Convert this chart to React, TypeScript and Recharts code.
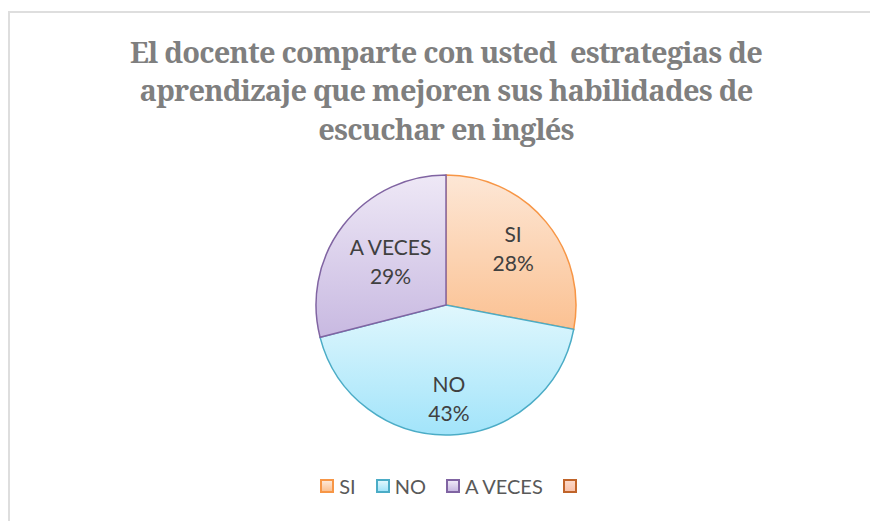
import React from "react";
import { PieChart, Pie, Cell, Legend } from "recharts";

// Chart values
const TITLE_LINES = [
  "El docente comparte con usted  estrategias de",
  "aprendizaje que mejoren sus habilidades de",
  "escuchar en inglés",
];
const CATEGORIES = ["SI", "NO", "A VECES", ""];
const PERCENTS = [28, 43, 29, 0];

const FILL_TOP = ["#fde7d6", "#e0f7fd", "#eee8f6", "#fcd8c8"];
const FILL_BOTTOM = ["#fbc192", "#a2e4fa", "#c8b9e1", "#f9c2aa"];
const STROKES = ["#f79646", "#4bacc6", "#8064a2", "#c0642a"];
// how far out each data label sits, as a share of the radius
const LABEL_RADIUS = [0.67, 0.72, 0.54, 0.6];

const RAD = Math.PI / 180;

const data = CATEGORIES.map((name, i) => ({ name, value: PERCENTS[i] }));

const renderLabel = (props: any) => {
  const { cx, cy, midAngle, outerRadius, name, value, index } = props;
  if (!value) return null;
  const r = outerRadius * LABEL_RADIUS[index];
  const x = cx + r * Math.cos(-midAngle * RAD);
  const y = cy + r * Math.sin(-midAngle * RAD);
  return (
    <text
      x={x}
      y={y}
      textAnchor="middle"
      fill="#404040"
      fontSize={21}
      fontFamily="Lato, sans-serif"
    >
      <tspan x={x} dy={-7}>
        {name}
      </tspan>
      <tspan x={x} dy={29}>
        {value}%
      </tspan>
    </text>
  );
};

const renderLegend = (props: any) => {
  const { payload = [] } = props;
  return (
    <div
      style={{
        display: "flex",
        justifyContent: "center",
        alignItems: "center",
        fontFamily: "Lato, sans-serif",
        fontSize: 20,
        color: "#595959",
      }}
    >
      {payload.map((entry: any) => {
        const i = CATEGORIES.indexOf(entry.value);
        return (
          <div
            key={i}
            style={{ display: "flex", alignItems: "center", marginRight: 20 }}
          >
            <span
              style={{
                display: "inline-block",
                width: 10,
                height: 10,
                border: `2px solid ${STROKES[i]}`,
                background: `linear-gradient(${FILL_TOP[i]}, ${FILL_BOTTOM[i]})`,
                marginRight: entry.value ? 5 : 0,
              }}
            />
            <span>{entry.value}</span>
          </div>
        );
      })}
    </div>
  );
};

export default function App() {
  return (
    <div
      style={{
        position: "absolute",
        left: 0,
        top: 0,
        width: 870,
        height: 521,
        background: "#fff",
        overflow: "hidden",
      }}
    >
      <div
        style={{
          position: "absolute",
          left: 8,
          top: 11,
          width: 870,
          height: 520,
          borderLeft: "2px solid #dedede",
          borderTop: "2px solid #dedede",
        }}
      />
      <div
        style={{
          position: "absolute",
          left: 0,
          top: 32.5,
          width: 892,
          textAlign: "center",
          fontFamily: "'Noto Serif', 'DejaVu Serif', serif",
          fontWeight: 700,
          fontSize: 29,
          letterSpacing: -0.8,
          lineHeight: "38.5px",
          color: "#7f7f7f",
          whiteSpace: "pre",
        }}
      >
        {TITLE_LINES.map((line, i) => (
          <div key={i}>{line}</div>
        ))}
      </div>
      <PieChart
        width={870}
        height={521}
        style={{ position: "absolute", left: 0, top: 0 }}
      >
        <defs>
          {CATEGORIES.map((_, i) => (
            <linearGradient key={i} id={`grad${i}`} x1="0" y1="0" x2="0" y2="1">
              <stop offset="0%" stopColor={FILL_TOP[i]} />
              <stop offset="100%" stopColor={FILL_BOTTOM[i]} />
            </linearGradient>
          ))}
        </defs>
        <Pie
          data={data}
          dataKey="value"
          nameKey="name"
          cx={441}
          cy={300}
          outerRadius={130}
          startAngle={90}
          endAngle={-270}
          labelLine={false}
          label={renderLabel}
          isAnimationActive={false}
        >
          {data.map((d, i) => (
            <Cell
              key={i}
              fill={`url(#grad${i})`}
              stroke={d.value ? STROKES[i] : "none"}
              strokeWidth={1.5}
            />
          ))}
        </Pie>
        <Legend
          content={renderLegend}
          itemSorter={null as any}
          wrapperStyle={{ position: "absolute", top: 474, left: 0, width: 917 }}
        />
      </PieChart>
    </div>
  );
}
